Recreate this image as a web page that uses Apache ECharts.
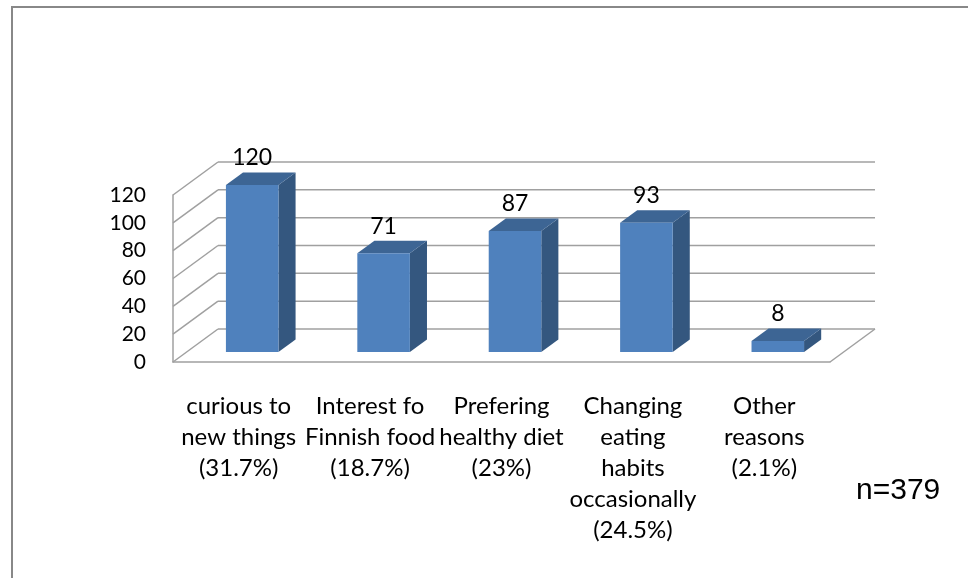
<!DOCTYPE html>
<html>
<head>
<meta charset="utf-8">
<script src="https://cdn.jsdelivr.net/npm/echarts@6/dist/echarts.min.js"></script>
<style>
  html, body { margin: 0; padding: 0; background: #fff; }
  #chart-container { width: 968px; height: 578px; }
</style>
</head>
<body>
<div id="chart-container"></div>
<script>
// chart data
var categories = [
  ["curious to", "new things", "(31.7%)"],
  ["Interest fo", "Finnish food", "(18.7%)"],
  ["Prefering", "healthy diet", "(23%)"],
  ["Changing", "eating", "habits", "occasionally", "(24.5%)"],
  ["Other", "reasons", "(2.1%)"]
];
var values = [120, 71, 87, 93, 8];
var yTicks = [0, 20, 40, 60, 80, 100, 120];
var note = "n=379";

var dom = document.getElementById("chart-container");
var myChart = echarts.init(dom);

// fake 3d: offset of the back wall from the front plane, in px
var DEPTH = [45, -33];
var FACE = 0.3;       // where the bar front face sits in the depth
var BAR_DEPTH = 0.38; // how deep a bar is
var gridColor = "#a0a0a0";
var font = "Lato, 'Open Sans', sans-serif";

function renderWall(params, api) {
  var v = api.value(1);
  var band = api.size([1, 0])[0];
  var p0 = api.coord([0, v]);
  var p1 = api.coord([categories.length - 1, v]);
  var x0 = p0[0] - band / 2, x1 = p1[0] + band / 2, y = p0[1];
  var st = { stroke: gridColor, lineWidth: 1.5 };
  var kids = [
    { type: "line", shape: { x1: x0, y1: y, x2: x0 + DEPTH[0], y2: y + DEPTH[1] }, style: st },
    { type: "line", shape: { x1: x0 + DEPTH[0], y1: y + DEPTH[1], x2: x1 + DEPTH[0], y2: y + DEPTH[1] }, style: st }
  ];
  if (v === 0) {
    kids.push({ type: "line", shape: { x1: x1, y1: y, x2: x1 + DEPTH[0], y2: y + DEPTH[1] }, style: st });
  }
  return { type: "group", children: kids };
}

function renderBar(params, api) {
  var i = api.value(0), v = api.value(1);
  var band = api.size([1, 0])[0];
  var w = band * 0.4;
  var base = api.coord([i, 0]), top = api.coord([i, v]);
  var ox = DEPTH[0] * FACE, oy = DEPTH[1] * FACE;
  var dx = DEPTH[0] * BAR_DEPTH, dy = DEPTH[1] * BAR_DEPTH;
  var l = base[0] - w / 2 + ox, r = base[0] + w / 2 + ox;
  var b = base[1] + oy, t = top[1] + oy;
  return {
    type: "group",
    children: [
      { type: "polygon", shape: { points: [[r, t], [r + dx, t + dy], [r + dx, b + dy], [r, b]] },
        style: { fill: "#34577f" } },
      { type: "polygon", shape: { points: [[l, t], [l + dx, t + dy], [r + dx, t + dy], [r, t]] },
        style: { fill: "#3d6594" } },
      { type: "polygon", shape: { points: [[l, t], [r, t], [r, b], [l, b]] },
        style: { fill: "#4f81bd" } },
      { type: "text", style: { text: String(v), x: (l + r) / 2, y: t + dy - 3,
        align: "center", verticalAlign: "bottom", fontSize: 23, fontFamily: font, fill: "#000" } }
    ]
  };
}

var option = {
  animation: false,
  backgroundColor: "#fff",
  grid: { left: 173, right: 138, top: 195, bottom: 216 },
  xAxis: {
    type: "category",
    data: categories.map(function (c) { return c.join("\n"); }),
    axisLine: { lineStyle: { color: gridColor, width: 1.5 } },
    axisTick: { show: false },
    axisLabel: { interval: 0, color: "#000", fontSize: 24, lineHeight: 31,
      fontFamily: font, margin: 29 }
  },
  yAxis: {
    type: "value",
    min: 0,
    max: 120,
    interval: 20,
    axisLine: { show: true, lineStyle: { color: gridColor, width: 1.5 } },
    axisTick: { show: false },
    splitLine: { show: false },
    axisLabel: { color: "#000", fontSize: 21, fontFamily: font, margin: 27, padding: [9, 0, 0, 0] }
  },
  graphic: [
    { type: "rect", shape: { x: 12, y: 7, width: 1000, height: 620 },
      style: { fill: null, stroke: "#888", lineWidth: 2 }, silent: true },
    { type: "text", left: 856, top: 476,
      style: { text: note, fontSize: 30, fontFamily: "'Liberation Sans', Arial, sans-serif", fill: "#000" } }
  ],
  series: [
    {
      type: "custom",
      name: "wall",
      renderItem: renderWall,
      data: yTicks.map(function (t) { return [0, t]; }),
      clip: false,
      z: 1,
      silent: true
    },
    {
      type: "custom",
      name: "bars",
      renderItem: renderBar,
      data: values.map(function (v, i) { return [i, v]; }),
      clip: false,
      z: 3
    }
  ]
};
if (option && typeof option === "object") {
  myChart.setOption(option, true);
}
</script>
</body>
</html>
